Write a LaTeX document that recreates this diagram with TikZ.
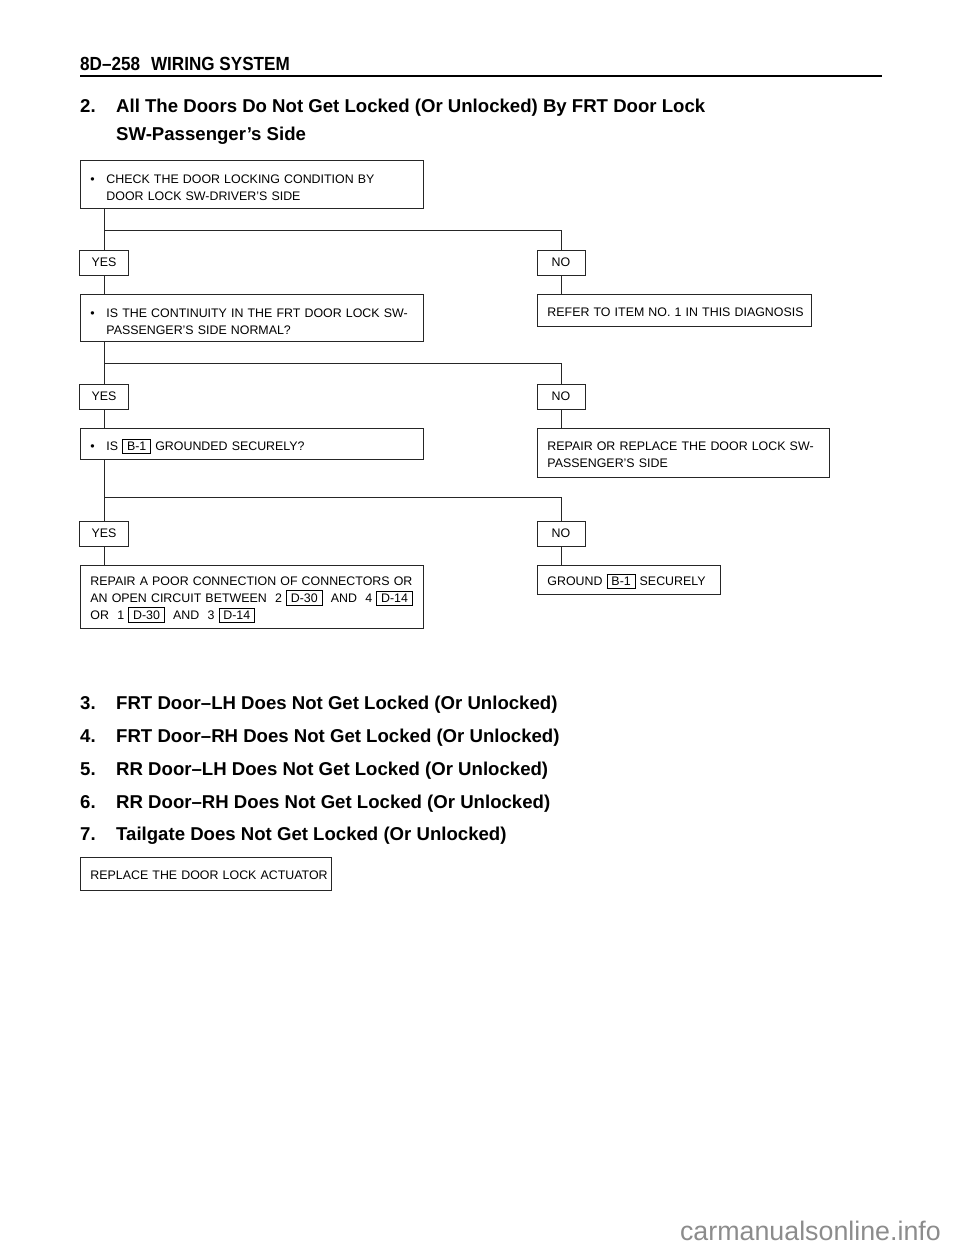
\documentclass[tikz,border=0pt]{standalone}
\usepackage{fontspec}
\setmainfont{Liberation Sans}
\newfontfamily\condfont[FakeStretch=0.9]{Liberation Sans}
\usetikzlibrary{positioning, calc}
\newcommand{\boxfont}{\fontsize{12.4}{17}\selectfont}
\newcommand{\titlefont}{\fontsize{18.6}{22}\selectfont\bfseries}
\newcommand{\conn}[1]{{\setlength{\fboxsep}{2.5pt}\setlength{\fboxrule}{0.8pt}\fbox{\hspace{1.5pt}#1\hspace{1.5pt}}}}
\newcommand{\bul}[2][3pt]{\raisebox{-#1}[\height][\depth]{\makebox[16pt][l]{\textbullet}\begin{tabular}[t]{@{}l@{}}#2\end{tabular}}}
\newcommand{\rows}[2][2.6pt]{\raisebox{-#1}[\height][\depth]{\begin{tabular}[t]{@{}l@{}}#2\end{tabular}}}
\tikzset{
    check/.style={
        rectangle,
        draw=black!85,
        line width=0.9pt,
        anchor=north west,
        inner xsep=10pt,
        inner ysep=0pt,
        align=left,
        font=\boxfont
    },
    answer/.style={
        rectangle,
        draw=black!85,
        line width=0.9pt,
        minimum width=49pt,
        minimum height=25pt,
        inner sep=0pt,
        font=\boxfont
    },
    link/.style={
        draw=black!85,
        line width=0.9pt
    },
    heading/.style={
        anchor=base west,
        inner sep=0pt,
        font=\titlefont
    },
}
\begin{document}
\begin{tikzpicture}[x=1pt, y=-1pt]
\useasboundingbox (0,0) rectangle (960,1250);

% Page header
\node[heading, font=\fontsize{19}{22}\condfont\bfseries] (page) at (80,70.7) {8D–258\hspace{11pt}WIRING SYSTEM};
\draw[line width=2.2pt] (80,76) -- (882,76);

% Title
\node[heading] (title) at (80,112.6) {\makebox[36pt][l]{2.}All The Doors Do Not Get Locked (Or Unlocked) By FRT Door Lock};
\node[heading] (title2) at (116,140.6) {SW-Passenger’s Side};

% Step 1
\node[check, text width=323pt, minimum height=48pt] (chk1) at (80,160) {
    \bul[4.6pt]{CHECK THE DOOR LOCKING CONDITION BY\\
    DOOR LOCK SW-DRIVER'S SIDE}
};
\node[answer] (yes1) at (104,262.5) {YES};
\node[answer, minimum width=48pt] (no1) at (561,262.5) {NO};
\coordinate (split1) at (104,230);

% Step 2
\node[check, text width=323pt, minimum height=47pt] (chk2) at (80,294) {
    \bul[5pt]{IS THE CONTINUITY IN THE FRT DOOR LOCK SW-\\
    PASSENGER'S SIDE NORMAL?}
};
\node[check, text width=254pt, minimum height=32pt] (refer) at (537,294) {
    \rows{REFER TO ITEM NO. 1 IN THIS DIAGNOSIS}
};
\node[answer] (yes2) at (104,396.5) {YES};
\node[answer, minimum width=48pt] (no2) at (561,396.5) {NO};
\coordinate (split2) at (104,363);

% Step 3
\node[check, text width=323pt, minimum height=31pt] (chk3) at (80,428) {
    \bul{IS \conn{B-1} GROUNDED SECURELY?}
};
\node[check, text width=272pt, minimum height=49pt] (swap) at (537,428) {
    \rows{REPAIR OR REPLACE THE DOOR LOCK SW-\\
    PASSENGER'S SIDE}
};
\node[answer] (yes3) at (104,533.5) {YES};
\node[answer, minimum width=48pt] (no3) at (561,533.5) {NO};
\coordinate (split3) at (104,497);

% Results
\node[check, text width=323pt, minimum height=63pt] (fix) at (80,565) {
    \rows[2pt]{REPAIR A POOR CONNECTION OF CONNECTORS OR\\
    AN OPEN CIRCUIT BETWEEN\ \ 2 \conn{D-30}\ \ AND\ \ 4 \conn{D-14}\\
    OR\ \ 1 \conn{D-30}\ \ AND\ \ 3 \conn{D-14}}
};
\node[check, text width=163pt, minimum height=29pt] (ground) at (537,565) {
    \rows{GROUND \conn{B-1} SECURELY}
};

% Items 3 to 7
\node[heading] (item3) at (80,709) {\makebox[36pt][l]{3.}FRT Door–LH Does Not Get Locked (Or Unlocked)};
\node[heading] (item4) at (80,742) {\makebox[36pt][l]{4.}FRT Door–RH Does Not Get Locked (Or Unlocked)};
\node[heading] (item5) at (80,775) {\makebox[36pt][l]{5.}RR Door–LH Does Not Get Locked (Or Unlocked)};
\node[heading] (item6) at (80,808) {\makebox[36pt][l]{6.}RR Door–RH Does Not Get Locked (Or Unlocked)};
\node[heading] (item7) at (80,840) {\makebox[36pt][l]{7.}Tailgate Does Not Get Locked (Or Unlocked)};
\node[check, text width=231pt, minimum height=33pt] (actuator) at (80,857) {
    \rows{REPLACE THE DOOR LOCK ACTUATOR}
};

\node[anchor=base east, inner sep=0pt, text=black!45, font=\fontsize{26.8}{30}\selectfont] (mark) at (941,1240.5) {carmanualsonline.info};

% Connectors
\draw[link] (yes1.north |- chk1.south) -- (yes1.north);
\draw[link] (split1) -| (no1.north);
\draw[link] (yes1.south) -- (yes1.south |- chk2.north);
\draw[link] (no1.south) -- (no1.south |- refer.north);

\draw[link] (yes2.north |- chk2.south) -- (yes2.north);
\draw[link] (split2) -| (no2.north);
\draw[link] (yes2.south) -- (yes2.south |- chk3.north);
\draw[link] (no2.south) -- (no2.south |- swap.north);

\draw[link] (yes3.north |- chk3.south) -- (yes3.north);
\draw[link] (split3) -| (no3.north);
\draw[link] (yes3.south) -- (yes3.south |- fix.north);
\draw[link] (no3.south) -- (no3.south |- ground.north);

\end{tikzpicture}
\end{document}
